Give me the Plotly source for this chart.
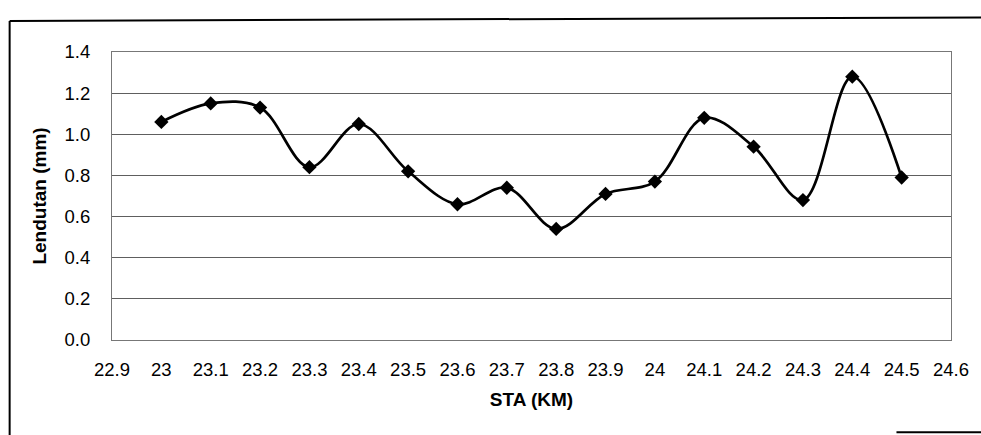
import plotly.graph_objects as go

# Station (km) and measured deflection (mm)
sta_km = [23.0, 23.1, 23.2, 23.3, 23.4, 23.5, 23.6, 23.7,
          23.8, 23.9, 24.0, 24.1, 24.2, 24.3, 24.4, 24.5]
lendutan_mm = [1.06, 1.15, 1.13, 0.84, 1.05, 0.82, 0.66, 0.74,
               0.54, 0.71, 0.77, 1.08, 0.94, 0.68, 1.28, 0.79]

# Axis ticks
x_tick_vals = [22.9, 23.0, 23.1, 23.2, 23.3, 23.4, 23.5, 23.6, 23.7,
               23.8, 23.9, 24.0, 24.1, 24.2, 24.3, 24.4, 24.5, 24.6]
x_tick_text = ["22.9", "23", "23.1", "23.2", "23.3", "23.4", "23.5", "23.6", "23.7",
               "23.8", "23.9", "24", "24.1", "24.2", "24.3", "24.4", "24.5", "24.6"]
y_tick_vals = [0.0, 0.2, 0.4, 0.6, 0.8, 1.0, 1.2, 1.4]
y_tick_text = ["0.0", "0.2", "0.4", "0.6", "0.8", "1.0", "1.2", "1.4"]

FONT = "Liberation Sans, Arial, sans-serif"

fig = go.Figure()
fig.add_trace(go.Scatter(
    x=sta_km,
    y=lendutan_mm,
    mode="lines+markers",
    line=dict(color="black", width=2.7, shape="spline", smoothing=1.0),
    marker=dict(symbol="diamond", size=11, color="black"),
    showlegend=False,
    hoverinfo="x+y",
))

fig.update_layout(
    width=981,
    height=435,
    margin=dict(l=112, r=25, t=52, b=95),
    paper_bgcolor="white",
    plot_bgcolor="white",
    font=dict(family=FONT, size=18.5, color="black"),
    xaxis=dict(
        range=[22.9, 24.6],
        tickmode="array",
        tickvals=x_tick_vals,
        ticktext=x_tick_text,
        showgrid=False,
        zeroline=False,
        showline=True,
        linecolor="#777777",
        linewidth=1,
        mirror=True,
        ticks="",
        ticklabelstandoff=13,
        tickfont=dict(family=FONT, size=18.5),
        title=dict(text="<b>STA (KM)</b>", font=dict(family=FONT, size=19), standoff=13),
    ),
    yaxis=dict(
        range=[0, 1.4],
        tickmode="array",
        tickvals=y_tick_vals,
        ticktext=y_tick_text,
        showgrid=True,
        gridcolor="#5e5e5e",
        gridwidth=1,
        zeroline=False,
        showline=True,
        linecolor="#777777",
        linewidth=1,
        mirror=True,
        ticks="",
        ticklabelstandoff=17,
        tickfont=dict(family=FONT, size=18.5),
        title=dict(text="<b>Lendutan (mm)</b>", font=dict(family=FONT, size=19), standoff=12),
    ),
)

# Chart frame: top and left edges, plus the visible lower-right edge
frame = dict(color="black", width=2)
fig.add_shape(type="line", xref="paper", yref="paper",
              x0=-0.122, x1=1.04, y0=1.108, y1=1.12, line=frame)
fig.add_shape(type="line", xref="paper", yref="paper",
              x0=-0.122, x1=-0.122, y0=1.108, y1=-0.33, line=frame)
fig.add_shape(type="line", xref="paper", yref="paper",
              x0=0.935, x1=1.04, y0=-0.32, y1=-0.32, line=frame)

fig.write_html("out.html")
